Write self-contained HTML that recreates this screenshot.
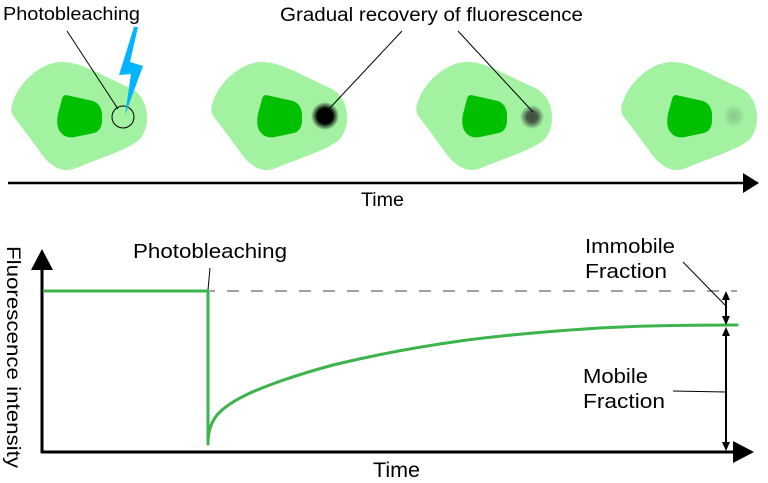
<!DOCTYPE html>
<html><head><meta charset="utf-8"><style>
html,body{margin:0;padding:0;background:#fff;}
svg{display:block;}
text{font-family:"Liberation Sans",sans-serif;fill:#000;}
</style></head><body>
<svg width="768" height="483" viewBox="0 0 768 483" xmlns="http://www.w3.org/2000/svg">
<defs>
<path id="cell" d="M13,102 C18,84 40,62 62,62 C80,62 95,72 130,88 C150,97 151,126 140,139 C130,149 100,158 76,168 C62,174 50,166 40,152 C30,138 21,126 14,117 C10,112 11,106 13,102 Z"/>
<path id="nuc" d="M66,95 L93,101 Q101,104 102,114 L102,122 Q101,131 94,133 L75,137 Q64,139 59,130 Q56,124 58,114 L62,99 Q63,95 66,95 Z"/>
<radialGradient id="g2"><stop offset="0" stop-color="#000"/><stop offset="0.55" stop-color="#000"/><stop offset="1" stop-color="#a2f2a2"/></radialGradient>
<radialGradient id="g3"><stop offset="0" stop-color="#3c4a3c"/><stop offset="0.45" stop-color="#4a5a4a"/><stop offset="1" stop-color="#a2f2a2"/></radialGradient>
<radialGradient id="g4"><stop offset="0" stop-color="#88cc88"/><stop offset="0.5" stop-color="#90d690"/><stop offset="1" stop-color="#a2f2a2"/></radialGradient>
</defs>

<g fill="#a2f2a2"><use href="#cell"/></g>
<g fill="#00c000"><use href="#nuc"/></g>
<g transform="translate(200,0)"><use href="#cell" fill="#a2f2a2"/><use href="#nuc" fill="#00c000"/></g>
<g transform="translate(405,0)"><use href="#cell" fill="#a2f2a2"/><use href="#nuc" fill="#00c000"/></g>
<g transform="translate(610,0)"><use href="#cell" fill="#a2f2a2"/><use href="#nuc" fill="#00c000"/></g>

<circle cx="325" cy="116" r="14" fill="url(#g2)"/>
<circle cx="532" cy="117" r="12" fill="url(#g3)"/>
<circle cx="734" cy="116" r="11" fill="url(#g4)"/>

<circle cx="123" cy="117" r="11" fill="none" stroke="#000" stroke-width="1"/>
<polygon points="134,27 138,27 130,62 143,66 125,115 131,74 119,75" fill="#00b4ff"/>

<line x1="67" y1="31" x2="118" y2="109" stroke="#000" stroke-width="1"/>
<line x1="402" y1="31" x2="328" y2="110" stroke="#000" stroke-width="1"/>
<line x1="458" y1="31" x2="533" y2="112" stroke="#000" stroke-width="1"/>

<text x="3" y="20" font-size="18.5" textLength="137" lengthAdjust="spacingAndGlyphs">Photobleaching</text>
<text x="280" y="21" font-size="19" textLength="303" lengthAdjust="spacingAndGlyphs">Gradual recovery of fluorescence</text>

<line x1="8" y1="183" x2="745" y2="183" stroke="#000" stroke-width="2.5"/>
<polygon points="743,173 759,183 743,193" fill="#000"/>
<text x="361" y="206" font-size="19" textLength="43" lengthAdjust="spacingAndGlyphs">Time</text>

<line x1="42" y1="266" x2="42" y2="453" stroke="#000" stroke-width="3"/>
<polygon points="31,270 42,249 53,270" fill="#000"/>
<line x1="41" y1="452" x2="737" y2="452" stroke="#000" stroke-width="3"/>
<polygon points="733,441 754,452 733,463" fill="#000"/>

<text transform="translate(7,246) rotate(90)" font-size="19.5" textLength="222" lengthAdjust="spacingAndGlyphs">Fluorescence intensity</text>
<text x="373" y="477" font-size="21" textLength="47" lengthAdjust="spacingAndGlyphs">Time</text>

<line x1="210" y1="291" x2="737" y2="291" stroke="#a0a0a0" stroke-width="2" stroke-dasharray="12 12" stroke-dashoffset="7"/>

<polyline fill="none" stroke="#3cb44b" stroke-width="3" stroke-linejoin="round"
points="43,291 208,291 208,445"/>
<path fill="none" stroke="#3cb44b" stroke-width="3" stroke-linecap="round"
d="M208,444 C208,431 211,423 217,415 C224,407 235,400 250,393 C275,382 300,374 333,365 C370,356 410,348 460,341 C520,333 600,327 650,326 C690,325 715,325 737,325"/>

<line x1="210" y1="268" x2="208" y2="290" stroke="#000" stroke-width="1"/>
<text x="133" y="258" font-size="20.5" textLength="154" lengthAdjust="spacingAndGlyphs">Photobleaching</text>

<line x1="726" y1="296" x2="726" y2="320" stroke="#000" stroke-width="2"/>
<polygon points="722,300 726,291 730,300" fill="#000"/>
<polygon points="722,316 726,325 730,316" fill="#000"/>
<line x1="726" y1="331" x2="726" y2="447" stroke="#000" stroke-width="2"/>
<polygon points="722,336 726,327 730,336" fill="#000"/>
<polygon points="722,442 726,451 730,442" fill="#000"/>

<line x1="683" y1="262" x2="725" y2="305" stroke="#000" stroke-width="1"/>
<line x1="673" y1="391" x2="726" y2="392" stroke="#000" stroke-width="1"/>

<text x="585" y="253" font-size="20.5" textLength="90" lengthAdjust="spacingAndGlyphs">Immobile</text>
<text x="585" y="278" font-size="20.5" textLength="82" lengthAdjust="spacingAndGlyphs">Fraction</text>
<text x="583" y="383" font-size="20.5" textLength="65" lengthAdjust="spacingAndGlyphs">Mobile</text>
<text x="583" y="408" font-size="20.5" textLength="82" lengthAdjust="spacingAndGlyphs">Fraction</text>
</svg>
</body></html>
